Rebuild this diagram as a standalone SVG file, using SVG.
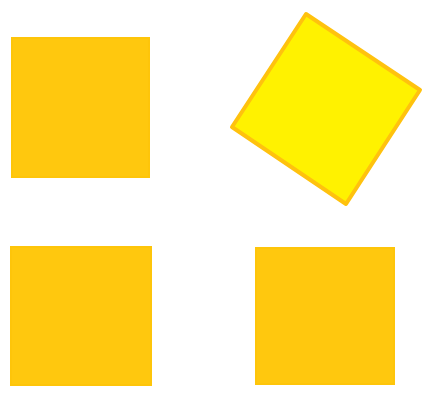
<svg xmlns="http://www.w3.org/2000/svg" width="432" height="410" viewBox="0 0 432 410">
<style>
.sq{fill:#FFC80E;stroke:#FEC50A;stroke-width:2}
.rot{fill:#FFF200;stroke:#FFC20E;stroke-width:4;stroke-linejoin:round}
</style>
<rect width="432" height="410" fill="#FFFFFF"/>
<g id="square-top-left"><rect class="sq" x="12" y="38" width="137" height="139"/></g>
<g id="square-rotated"><polygon class="rot" points="306,14 420,90 346,204 232,127"/></g>
<g id="square-bottom-left"><rect class="sq" x="11" y="247" width="140" height="138"/></g>
<g id="square-bottom-right"><rect class="sq" x="256" y="248" width="138" height="136"/></g>
<g id="connectors"></g>
</svg>
